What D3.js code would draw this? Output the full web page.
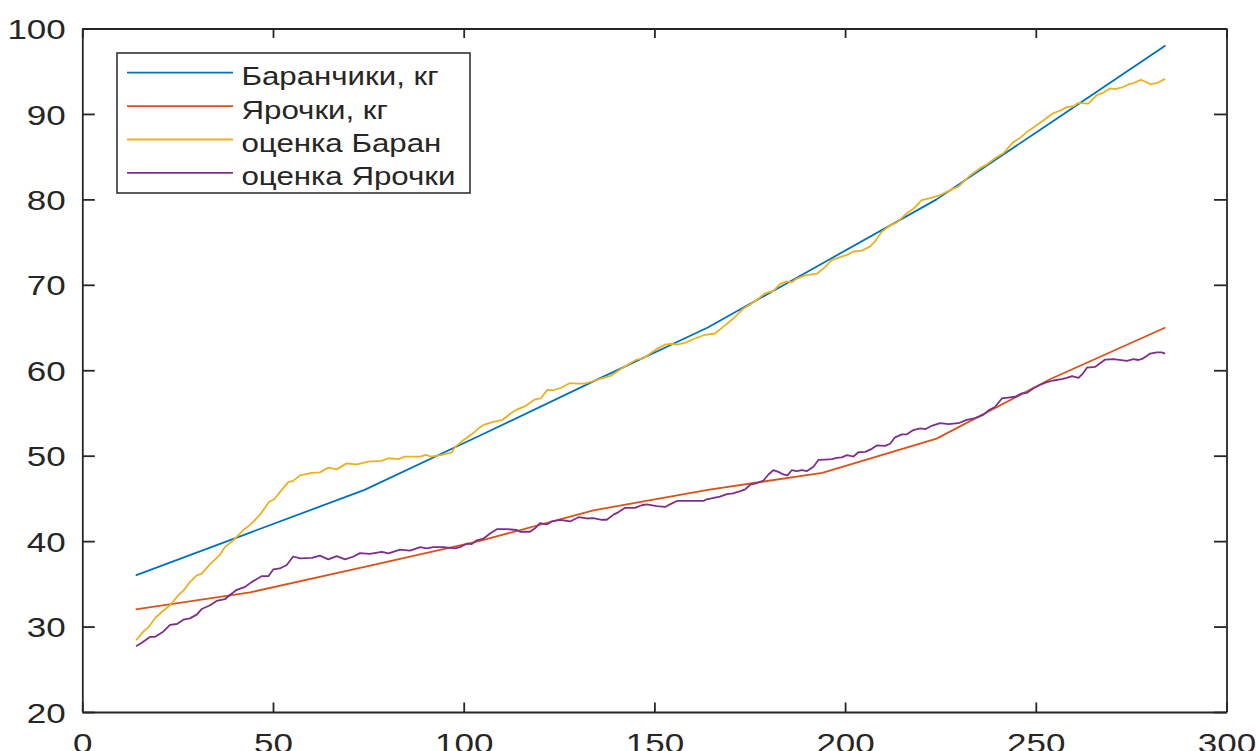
<!DOCTYPE html>
<html>
  <head>
    <meta charset="utf-8">
    <script src="https://d3js.org/d3.v7.min.js"></script>
    <style>
      html, body {
        margin: 0;
        padding: 0;
        overflow: hidden;
        background: #fff;
      }
      text {
        font-family: "Liberation Sans", Arial, Helvetica, sans-serif;
        fill: #262626;
      }
      .domain, .tick line {
        stroke: #262626;
      }
    </style>
  </head>
  <body>
    <div id="chart"></div>
    <script>
      // measured weights (every 30 days)
      const ageDays = [14, 44, 74, 104, 134, 164, 194, 224, 254, 284];
      const ramKg = [36, 41, 46, 52.3, 58.7, 65, 72.5, 80, 89, 98];
      const eweKg = [32, 34, 37, 40, 43.6, 46, 48, 52, 59, 65];

      // estimated curves, [day, kg]
      const estRam = [[14.1,28.4],[16.0,29.4],[17.3,29.9],[19.1,31.0],[21.2,31.85],[23.0,32.5],[25.2,33.7],[26.5,34.2],[28.2,35.2],[30.0,36.0],[31.3,36.2],[33.5,37.3],[36.1,38.4],[37.4,39.3],[39.6,40.1],[42.2,41.3],[44.0,41.9],[46.6,43.1],[49.0,44.6],[50.3,44.9],[52.3,46.0],[54.0,46.9],[55.3,47.05],[57.1,47.7],[60.2,48.0],[62.3,48.05],[64.5,48.6],[66.7,48.4],[69.3,49.1],[72.0,48.97],[75.0,49.3],[78.5,49.4],[80.3,49.7],[82.9,49.6],[84.6,49.9],[88.6,49.9],[90.1,50.1],[91.4,49.9],[94.3,50.1],[96.9,50.4],[97.7,51.0],[99.9,51.8],[102.1,52.5],[103.9,53.2],[105.2,53.6],[107.8,53.95],[110.0,54.15],[112.2,54.9],[113.9,55.4],[116.1,55.8],[118.7,56.6],[120.2,56.7],[121.9,57.7],[123.5,57.66],[125.3,57.9],[127.9,58.5],[129.7,58.44],[131.8,58.44],[134.5,58.8],[136.6,59.1],[138.4,59.3],[141.0,60.1],[143.2,60.7],[145.4,61.25],[147.1,61.4],[148.9,61.95],[150.6,62.5],[152.8,63.0],[154.6,63.1],[155.9,63.0],[158.0,63.2],[161.1,63.8],[162.9,64.1],[165.9,64.3],[168.1,65.1],[170.7,66.05],[173.3,67.2],[175.1,67.7],[177.3,68.4],[179.0,69.0],[181.2,69.3],[183.0,70.1],[184.7,70.4],[186.0,70.3],[187.3,70.7],[189.5,71.1],[192.6,71.3],[194.3,71.9],[196.5,72.9],[198.7,73.25],[200.5,73.5],[202.2,73.9],[204.4,74.0],[206.6,74.5],[207.9,75.1],[209.6,76.2],[211.8,76.95],[213.6,77.3],[216.2,78.4],[217.9,78.9],[220.1,79.9],[222.3,80.15],[224.9,80.5],[226.7,80.9],[229.7,81.5],[232.8,82.8],[235.4,83.66],[237.2,84.1],[239.8,84.95],[241.5,85.4],[244.1,86.7],[245.9,87.2],[247.7,87.9],[250.3,88.7],[252.5,89.4],[254.2,90.0],[256.4,90.4],[258.1,90.8],[259.9,90.9],[261.2,91.3],[263.8,91.2],[266.0,92.2],[267.8,92.5],[269.5,93.0],[270.8,92.9],[272.6,93.1],[274.3,93.45],[275.6,93.6],[277.6,94.0],[280.0,93.5],[281.7,93.6],[283.9,94.1]];

      const estEwe = [[14.1,27.7],[15.6,28.1],[17.8,28.8],[19.1,28.8],[21.2,29.4],[23.0,30.2],[24.8,30.3],[26.5,30.8],[28.2,30.96],[30.0,31.4],[31.3,32.05],[33.5,32.5],[35.2,33.0],[37.4,33.2],[38.7,33.7],[40.5,34.3],[42.7,34.65],[44.4,35.2],[47.0,35.9],[48.8,35.9],[50.1,36.7],[51.8,36.8],[53.6,37.2],[55.3,38.2],[57.1,37.98],[60.2,38.05],[62.3,38.3],[64.5,37.86],[66.7,38.25],[68.9,37.86],[71.1,38.2],[72.8,38.6],[75.4,38.5],[78.5,38.75],[80.3,38.56],[83.3,39.0],[85.9,38.9],[88.6,39.3],[90.3,39.15],[92.0,39.3],[94.7,39.3],[97.7,39.15],[99.0,39.3],[100.8,39.7],[102.1,39.65],[103.4,40.1],[105.2,40.3],[106.9,40.9],[108.7,41.4],[111.3,41.4],[113.9,41.3],[114.8,41.1],[117.4,41.1],[118.7,41.5],[120.0,42.1],[121.8,41.95],[123.1,42.3],[125.3,42.5],[127.9,42.3],[130.1,42.8],[132.3,42.65],[134.0,42.7],[136.2,42.5],[137.5,42.5],[139.3,43.1],[140.6,43.4],[142.3,43.9],[144.9,43.9],[146.7,44.2],[148.0,44.3],[150.6,44.1],[152.8,44.0],[154.1,44.3],[155.9,44.7],[158.5,44.7],[160.7,44.7],[162.9,44.7],[163.7,44.9],[165.9,45.1],[167.2,45.2],[169.0,45.5],[170.7,45.6],[172.5,45.85],[173.8,46.05],[175.1,46.6],[176.9,46.8],[178.6,47.1],[179.9,47.8],[181.2,48.3],[182.5,48.1],[183.8,47.8],[184.9,47.7],[186.0,48.3],[187.3,48.2],[188.7,48.3],[190.0,48.2],[191.7,48.7],[193.0,49.5],[194.8,49.55],[196.5,49.6],[197.8,49.75],[199.1,49.8],[200.5,50.06],[202.2,49.9],[203.5,50.4],[205.3,50.45],[207.0,50.8],[208.3,51.2],[210.5,51.15],[211.8,51.4],[213.1,52.15],[214.9,52.5],[216.2,52.5],[217.9,53.0],[219.7,53.2],[221.0,53.1],[222.7,53.5],[224.9,53.8],[227.1,53.7],[229.7,53.8],[231.9,54.2],[234.1,54.4],[236.3,54.8],[237.6,55.3],[239.3,55.7],[241.1,56.7],[242.8,56.8],[244.6,56.9],[246.3,57.3],[247.7,57.35],[249.4,57.9],[251.2,58.3],[252.9,58.6],[254.6,58.8],[256.8,58.95],[258.1,59.1],[259.5,59.3],[261.2,59.1],[262.5,59.7],[263.4,60.3],[265.6,60.4],[268.2,61.25],[270.4,61.3],[273.9,61.1],[275.6,61.3],[276.9,61.2],[278.2,61.4],[280.0,61.95],[281.7,62.1],[283.0,62.1],[283.9,61.95]];

      const xTicks = [0, 50, 100, 150, 200, 250, 300];
      const yTicks = [20, 30, 40, 50, 60, 70, 80, 90, 100];
      const seriesNames = ["Баранчики, кг", "Ярочки, кг", "оценка Баран", "оценка Ярочки"];
      const colors = ["#0072BD", "#D95319", "#EDB120", "#7E2F8E"];

      const width = 1256;
      const height = 751;
      const margin = { top: 28.5, right: 29.5, bottom: 39, left: 82.3 };
      const stretch = 1.25; // glyphs in the picture are wider than tall

      const svg = d3.select("#chart")
        .append("svg")
        .attr("width", width)
        .attr("height", height);

      const x = d3.scaleLinear().domain([0, 300]).range([margin.left, width - margin.right]);
      const y = d3.scaleLinear().domain([20, 100]).range([height - margin.bottom, margin.top]);

      // axes, MATLAB-style box with inward ticks
      const xAxis = svg.append("g")
        .attr("transform", `translate(0,${y(20)})`)
        .call(d3.axisBottom(x).tickValues(xTicks).tickSize(-9.5).tickSizeOuter(0));
      xAxis.selectAll("text")
        .attr("y", 0).attr("dy", 0)
        .attr("transform", `translate(0,41) scale(${stretch},1)`)
        .style("font-size", "28px");

      const yAxis = svg.append("g")
        .attr("transform", `translate(${x(0)},0)`)
        .call(d3.axisLeft(y).tickValues(yTicks).tickSize(-12.5).tickSizeOuter(0));
      yAxis.selectAll("text")
        .attr("x", 0).attr("dy", "0.36em")
        .attr("transform", `translate(-16.5,0) scale(${stretch},1)`)
        .style("font-size", "28px");

      svg.append("g")
        .attr("transform", `translate(0,${y(100)})`)
        .call(d3.axisTop(x).tickValues(xTicks).tickSize(-9.5).tickSizeOuter(0).tickFormat(""));
      svg.append("g")
        .attr("transform", `translate(${x(300)},0)`)
        .call(d3.axisRight(y).tickValues(yTicks).tickSize(-12.5).tickSizeOuter(0).tickFormat(""));

      svg.selectAll(".domain").attr("stroke-width", 1.8);
      svg.selectAll(".tick line").attr("stroke-width", 1.8);

      // lines
      const line = d3.line().x(d => x(d[0])).y(d => y(d[1]));
      const series = [
        ageDays.map((d, i) => [d, ramKg[i]]),
        ageDays.map((d, i) => [d, eweKg[i]]),
        estRam,
        estEwe
      ];

      svg.append("g")
        .selectAll("path")
        .data(series)
        .enter()
        .append("path")
        .attr("d", line)
        .attr("fill", "none")
        .attr("stroke", (d, i) => colors[i])
        .attr("stroke-width", 1.8)
        .attr("stroke-linejoin", "round");

      // legend
      const legend = svg.append("g");
      legend.append("rect")
        .attr("x", 117).attr("y", 53)
        .attr("width", 353).attr("height", 140)
        .attr("fill", "#fff")
        .attr("stroke", "#262626")
        .attr("stroke-width", 1.5);

      const rows = legend.selectAll(".row")
        .data(seriesNames)
        .enter()
        .append("g")
        .attr("class", "row")
        .attr("transform", (d, i) => `translate(0,${72.7 + i * 33.4})`);

      rows.append("line")
        .attr("x1", 127).attr("x2", 233)
        .attr("stroke", (d, i) => colors[i])
        .attr("stroke-width", 1.8);

      rows.append("text")
        .attr("transform", `translate(241.5,12.5) scale(${stretch},1)`)
        .style("font-size", "25px")
        .text(d => d);
    </script>
  </body>
</html>
